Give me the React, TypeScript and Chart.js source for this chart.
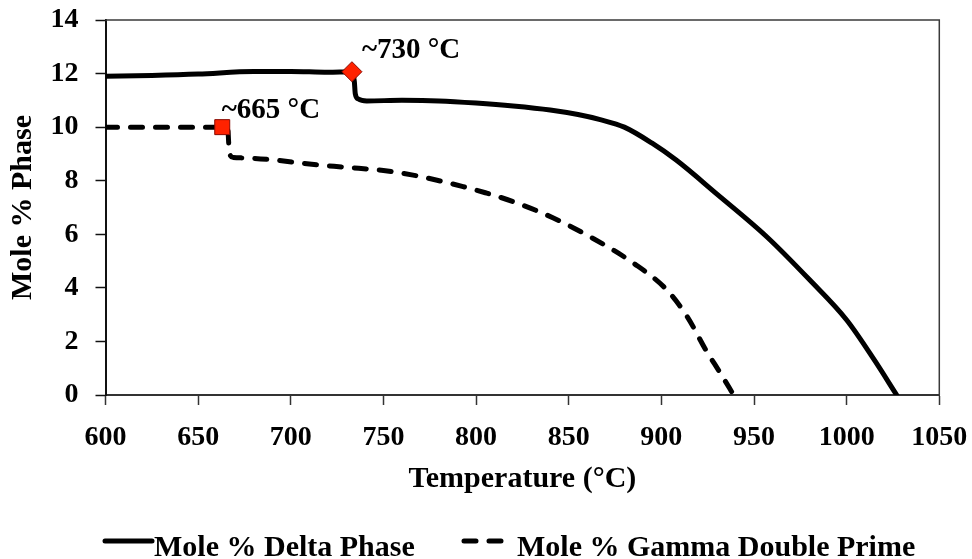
import React, { useEffect, useRef } from "react";
import { Chart, registerables } from "chart.js";

Chart.register(...registerables);

// ---- Data ----
const deltaTemps = [600, 625, 650, 680, 700, 720, 733, 734.3, 734.8, 736.5, 741, 760, 780, 800, 820, 840, 855, 867, 880, 895, 908, 930, 957, 980, 1000, 1015, 1027];
const deltaMole = [11.9, 11.93, 11.98, 12.08, 12.08, 12.05, 12.07, 11.7, 11.25, 11.05, 10.98, 11.0, 10.98, 10.9, 10.79, 10.64, 10.47, 10.28, 10.0, 9.4, 8.77, 7.5, 5.9, 4.3, 2.8, 1.3, 0];

const gammaTemps = [600, 630, 663, 666, 666.5, 667, 669, 675, 690, 710, 730, 750, 766, 780, 793, 805, 820, 842, 863, 885, 903, 914, 924, 932, 939];
const gammaMole = [10.0, 10.0, 10.0, 9.95, 9.4, 9.0, 8.87, 8.85, 8.78, 8.62, 8.5, 8.38, 8.21, 8.0, 7.78, 7.55, 7.22, 6.6, 5.85, 4.92, 3.92, 2.92, 1.68, 0.8, 0];

const deltaTransitionTemp = [733];
const deltaTransitionMole = [12.07];
const gammaTransitionTemp = [663];
const gammaTransitionMole = [10.0];
const transitionLabels = ["~730 °C", "~665 °C"];

const xTickValues = [600, 650, 700, 750, 800, 850, 900, 950, 1000, 1050];
const yTickValues = [0, 2, 4, 6, 8, 10, 12, 14];

const seriesNames = ["Mole % Delta Phase", "Mole % Gamma Double Prime"];
const xTitle = "Temperature (°C)";
const yTitle = "Mole % Phase";

const FONT = "'Liberation Serif', 'Times New Roman', serif";

const toPoints = (xs: number[], ys: number[]) => xs.map((x, i) => ({ x, y: ys[i] }));

const boxPlugin = {
  id: "boxPlugin",
  beforeDatasetsDraw(chart: any) {
    const { ctx, chartArea: a } = chart;
    ctx.save();
    ctx.strokeStyle = "#3a3a3a";
    ctx.lineWidth = 1.5;
    ctx.beginPath();
    ctx.moveTo(a.left, a.top);
    ctx.lineTo(a.right, a.top);
    ctx.lineTo(a.right, a.bottom);
    ctx.stroke();
    ctx.restore();
  },
};

const annotationPlugin = {
  id: "annotationPlugin",
  afterDatasetsDraw(chart: any) {
    const { ctx, scales } = chart;
    const xs = scales.x;
    const ys = scales.y;
    const spots = [
      { t: deltaTransitionTemp[0], m: deltaTransitionMole[0], label: transitionLabels[0], dx: 10, dy: -14 },
      { t: gammaTransitionTemp[0], m: gammaTransitionMole[0], label: transitionLabels[1], dx: -0.5, dy: -9 },
    ];
    ctx.save();
    ctx.fillStyle = "#000";
    ctx.font = `bold 29px ${FONT}`;
    ctx.textAlign = "left";
    ctx.textBaseline = "alphabetic";
    spots.forEach((s) => {
      const px = xs.getPixelForValue(s.t);
      const py = ys.getPixelForValue(s.m);
      ctx.fillText(s.label, px + s.dx, py + s.dy);
    });
    ctx.restore();
  },
};

const legendPlugin = {
  id: "legendPlugin",
  afterDraw(chart: any) {
    const { ctx } = chart;
    const items = chart.data.datasets.filter((d: any) => d.inLegend);
    const placements = [
      { x0: 105, x1: 152, tx: 154 },
      { x0: 464, x1: 505, tx: 517 },
    ];
    ctx.save();
    items.forEach((ds: any, i: number) => {
      const p = placements[i];
      ctx.strokeStyle = ds.borderColor;
      ctx.lineWidth = ds.borderWidth;
      ctx.lineCap = "round";
      ctx.setLineDash(ds.borderDash || []);
      ctx.beginPath();
      ctx.moveTo(p.x0, 541);
      ctx.lineTo(p.x1, 541);
      ctx.stroke();
      ctx.setLineDash([]);
      ctx.fillStyle = "#000";
      ctx.font = `bold 30px ${FONT}`;
      ctx.textAlign = "left";
      ctx.textBaseline = "alphabetic";
      ctx.fillText(ds.label, p.tx, 556);
    });
    ctx.restore();
  },
};

export default function App() {
  const canvasRef = useRef<HTMLCanvasElement | null>(null);

  useEffect(() => {
    if (!canvasRef.current) return;
    const chart = new Chart(canvasRef.current, {
      type: "line",
      data: {
        datasets: [
          {
            type: "scatter",
            label: "delta transition",
            data: toPoints(deltaTransitionTemp, deltaTransitionMole),
            pointStyle: "rectRot",
            pointRadius: 10,
            pointBackgroundColor: "#ff2200",
            pointBorderColor: "#8a0a00",
            pointBorderWidth: 1,
            order: 0,
          } as any,
          {
            type: "scatter",
            label: "gamma transition",
            data: toPoints(gammaTransitionTemp, gammaTransitionMole),
            pointStyle: "rect",
            pointRadius: 10.6,
            pointBackgroundColor: "#ff2200",
            pointBorderColor: "#8a0a00",
            pointBorderWidth: 1,
            order: 0,
          } as any,
          {
            label: seriesNames[0],
            data: toPoints(deltaTemps, deltaMole),
            borderColor: "#000",
            borderWidth: 5,
            pointRadius: 0,
            cubicInterpolationMode: "monotone",
            borderCapStyle: "round",
            borderJoinStyle: "round",
            fill: false,
            order: 1,
            inLegend: true,
          } as any,
          {
            label: seriesNames[1],
            data: toPoints(gammaTemps, gammaMole),
            borderColor: "#000",
            borderWidth: 5,
            borderDash: [12, 13],
            borderCapStyle: "round",
            pointRadius: 0,
            cubicInterpolationMode: "monotone",
            fill: false,
            order: 1,
            inLegend: true,
          } as any,
        ],
      },
      options: {
        animation: false,
        responsive: true,
        maintainAspectRatio: false,
        layout: { padding: { top: 20, right: 32.7, bottom: 62, left: 0 } },
        plugins: {
          legend: { display: false },
          tooltip: { enabled: false },
        },
        scales: {
          x: {
            type: "linear",
            min: 600,
            max: 1050,
            afterBuildTicks: (scale: any) => {
              scale.ticks = xTickValues.map((v) => ({ value: v }));
            },
            afterFit: (scale: any) => {
              scale.height = 102;
              scale.paddingLeft = 0;
              scale.paddingRight = 0;
            },
            ticks: {
              color: "#000",
              font: { family: FONT, size: 28, weight: "bold" },
              padding: 16,
              maxRotation: 0,
              autoSkip: false,
              callback: (v: any) => String(v),
            },
            grid: {
              display: true,
              drawOnChartArea: false,
              drawTicks: true,
              tickLength: 10,
              tickColor: "#333",
              tickWidth: 1.5,
            },
            border: { display: true, color: "#333", width: 2 },
            title: {
              display: true,
              text: xTitle,
              color: "#000",
              font: { family: FONT, size: 30, weight: "bold" },
              padding: { top: 0, bottom: 0 },
            },
          },
          y: {
            type: "linear",
            min: 0,
            max: 14,
            afterBuildTicks: (scale: any) => {
              scale.ticks = yTickValues.map((v) => ({ value: v }));
            },
            afterFit: (scale: any) => {
              scale.width = 105.5;
              scale.paddingTop = 0;
              scale.paddingBottom = 0;
            },
            ticks: {
              color: "#000",
              font: { family: FONT, size: 28, weight: "bold" },
              padding: 17,
              callback: (v: any) => String(v),
            },
            grid: {
              display: true,
              drawOnChartArea: false,
              drawTicks: true,
              tickLength: 10,
              tickColor: "#111",
              tickWidth: 1.5,
            },
            border: { display: true, color: "#111", width: 2 },
            title: {
              display: true,
              text: yTitle,
              color: "#000",
              font: { family: FONT, size: 30, weight: "bold" },
              padding: { top: 5, bottom: 0 },
            },
          },
        },
      } as any,
      plugins: [boxPlugin, annotationPlugin, legendPlugin],
    });
    return () => chart.destroy();
  }, []);

  return (
    <div style={{ position: "fixed", left: 0, top: 0, width: 972, height: 559, background: "#fff" }}>
      <canvas ref={canvasRef} />
    </div>
  );
}
